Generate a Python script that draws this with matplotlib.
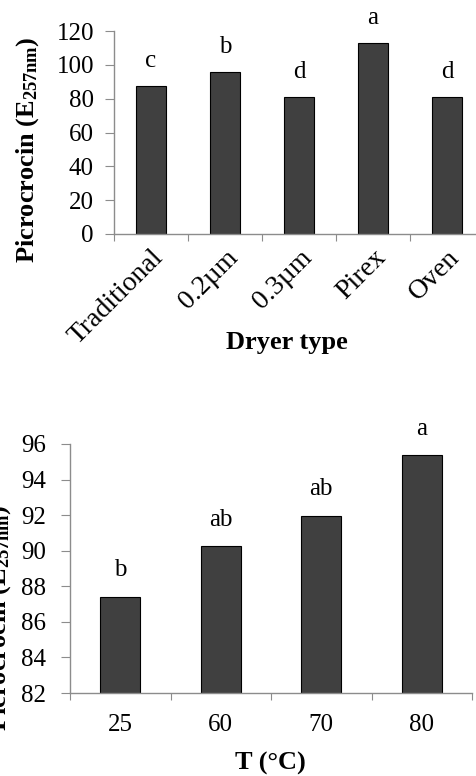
import matplotlib
matplotlib.use("Agg")
import matplotlib.pyplot as plt

# data
dryer_types = ["Traditional", "0.2µm", "0.3µm", "Pirex", "Oven"]
dryer_values = [87.2, 95.7, 80.9, 112.9, 80.9]
dryer_letters = ["c", "b", "d", "a", "d"]

temps = ["25", "60", "70", "80"]
temp_values = [87.42, 90.25, 91.96, 95.36]
temp_letters = ["b", "ab", "ab", "a"]

plt.rcParams['font.family'] = ['Liberation Serif', 'DejaVu Serif']
plt.rcParams['mathtext.fontset'] = 'custom'
plt.rcParams['mathtext.rm'] = 'Liberation Serif'
plt.rcParams['mathtext.bf'] = 'Liberation Serif:bold'
plt.rcParams['mathtext.it'] = 'Liberation Serif:italic'

W, H = 476, 776
fig = plt.figure(figsize=(W / 100, H / 100), dpi=100)

bar_col = '#404040'
axis_col = '#8c8c8c'
fs = 18
ylab = r'$\mathbf{Picrocrocin\ (E_{257nm})}$'


def px_axes(l, t, r, b):
    return fig.add_axes([l / W, 1 - b / H, (r - l) / W, (b - t) / H])


def style(ax, n, ypad):
    for s in ['top', 'right']:
        ax.spines[s].set_visible(False)
    for s in ['left', 'bottom']:
        ax.spines[s].set_color(axis_col)
        ax.spines[s].set_linewidth(1.0)
    ax.set_xlim(-0.5, n - 0.5)
    ax.set_xticks([i - 0.5 for i in range(n + 1)])
    ax.set_xticklabels([])
    ax.tick_params(axis='x', which='major', length=5, color=axis_col, direction='out')
    ax.tick_params(axis='y', length=6.5, color=axis_col, direction='out', labelsize=fs, pad=ypad)
    ax.tick_params(axis='x', which='minor', length=0, labelsize=fs)


# top chart
ax1 = px_axes(114, 31, 484, 234)
x1 = range(len(dryer_types))
ax1.bar(x1, dryer_values, width=0.4, color=bar_col, edgecolor='black', linewidth=0.8)
ax1.set_ylim(0, 120)
ax1.set_yticks(range(0, 121, 20))
style(ax1, len(dryer_types), 8)
ax1.set_xticks(list(x1), minor=True)
ax1.set_xticklabels(dryer_types, minor=True, rotation=45, ha='right', rotation_mode='anchor')
ax1.tick_params(axis='x', which='minor', pad=8, labelsize=20)
for i, (v, t) in enumerate(zip(dryer_values, dryer_letters)):
    ax1.annotate(t, (i, v), xytext=(0, 18), textcoords='offset points',
                 ha='center', va='center', fontsize=fs)
fig.text(287 / W, 1 - 343 / H, 'Dryer type', fontsize=19, fontweight='bold',
         ha='center', va='center')
fig.text(28 / W, 1 - 150 / H, ylab, fontsize=19, rotation=90, ha='center', va='center')

# bottom chart
ax2 = px_axes(70, 444, 472, 693)
x2 = range(len(temps))
ax2.bar(x2, temp_values, width=0.4, color=bar_col, edgecolor='black', linewidth=0.8)
ax2.set_ylim(82, 96)
ax2.set_yticks(range(82, 97, 2))
style(ax2, len(temps), 11)
ax2.set_xticks(list(x2), minor=True)
ax2.set_xticklabels(temps, minor=True)
ax2.tick_params(axis='x', which='minor', pad=15)
for i, (v, t) in enumerate(zip(temp_values, temp_letters)):
    ax2.annotate(t, (i, v), xytext=(0, 19), textcoords='offset points',
                 ha='center', va='center', fontsize=fs)
fig.text(270 / W, 1 - 763 / H, 'T (°C)', fontsize=19, fontweight='bold',
         ha='center', va='center')
fig.text(0 / W, 1 - 618 / H, ylab, fontsize=19, rotation=90, ha='center', va='center')

fig.savefig('out.png', dpi=100)
